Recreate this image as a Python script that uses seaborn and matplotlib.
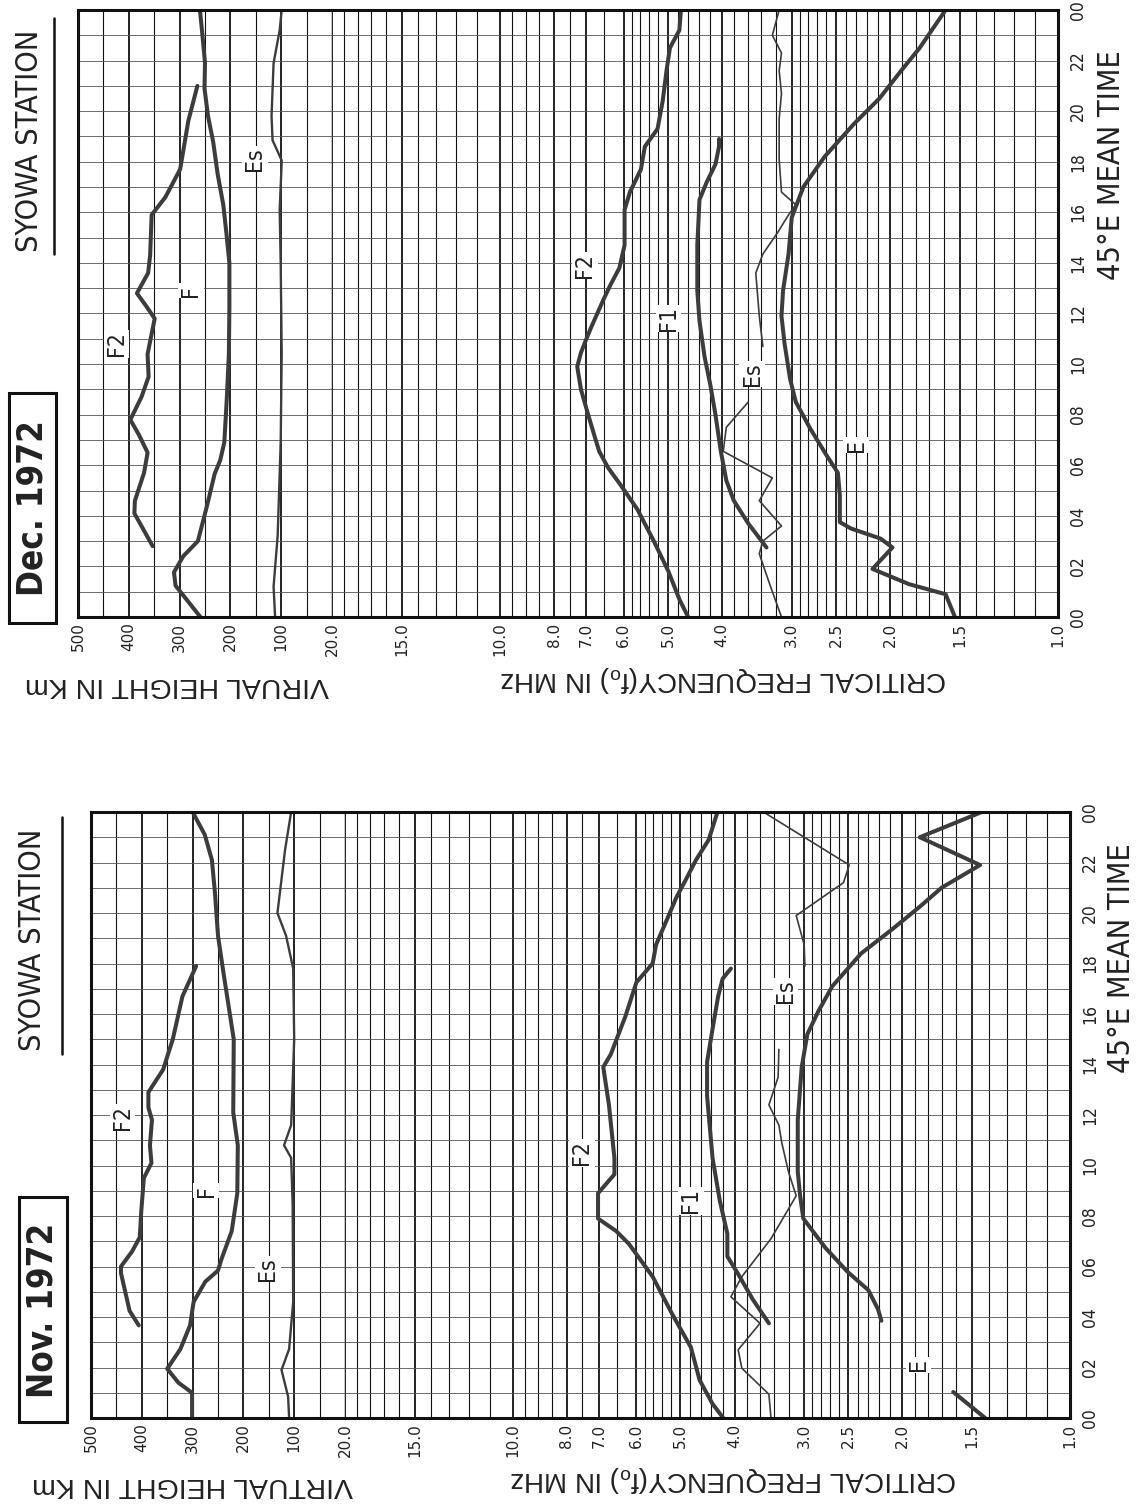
import matplotlib
matplotlib.use("Agg")
import numpy as np
import pandas as pd
import matplotlib.pyplot as plt
import matplotlib.ticker as mticker
from matplotlib.patches import Rectangle
from matplotlib.lines import Line2D
from matplotlib import font_manager
import seaborn as sns

# ---------------- axis definitions ----------------
HOURS = [0, 2, 4, 6, 8, 10, 12, 14, 16, 18, 20, 22, 24]
HOUR_LABELS = ["00", "02", "04", "06", "08", "10", "12", "14", "16", "18", "20", "22", "00"]
HEIGHT_TICKS = [500, 400, 300, 200, 100]
HEIGHT_LABELS = ["500", "400", "300", "200", "100"]
FREQ_TICKS = [20, 15, 10, 8, 7, 6, 5, 4, 3, 2.5, 2, 1.5, 1]
FREQ_LABELS = ["20.0", "15.0", "10.0", "8.0", "7.0", "6.0", "5.0", "4.0", "3.0", "2.5", "2.0", "1.5", "1.0"]

# ---------------- December 1972 ----------------
DEC_F2H_T = [2.8, 4.1, 4.6, 5.7, 6.5, 7.2, 7.8, 8.7, 9.5, 10.4, 11.1, 11.8, 12.3, 12.8, 13.6, 14.3, 15.9, 16.6, 17.7, 18.4, 19.6, 21.0]
DEC_F2H_V = [353, 389, 388, 370, 363, 380, 397, 375, 361, 363, 356, 349, 366, 384, 362, 358, 355, 328, 299, 293, 283, 265]
DEC_FH_T = [0, 1.24, 1.77, 2.4, 3.0, 4.4, 5.66, 6.2, 6.9, 8.67, 10.4, 12.2, 14.0, 15.2, 16.3, 17.5, 18.8, 19.8, 20.9, 21.9, 23.2, 24.0]
DEC_FH_V = [259, 308, 311, 293, 264, 246, 231, 220, 212, 207, 203, 202, 202, 208, 214, 225, 234, 244, 251, 250, 256, 260]
DEC_ESH_T = [0, 1.2, 3.2, 6.9, 10.4, 14.0, 16.1, 17.5, 18.05, 18.85, 19.8, 21.9, 23.2, 24]
DEC_ESH_V = [112, 115, 107, 101, 99, 101, 103, 100, 99, 117, 119, 115, 103, 99]

DEC_F2_T = [0, 0.7, 1.8, 3.0, 4.25, 5.2, 5.9, 6.55, 7.25, 8.0, 9.0, 9.9, 10.45, 11.0, 11.5, 12.5, 13.1, 13.8, 14.7, 16.1, 16.8, 17.7, 18.6, 19.3, 20.4, 21.6, 22.5, 23.2, 24]
DEC_F2_V = [4.60, 4.77, 4.99, 5.30, 5.67, 6.07, 6.40, 6.64, 6.79, 6.95, 7.16, 7.27, 7.16, 7.00, 6.85, 6.54, 6.35, 6.11, 5.98, 5.98, 5.85, 5.59, 5.50, 5.22, 5.11, 5.03, 4.96, 4.77, 4.74]
DEC_F1_T = [2.75, 3.7, 4.6, 5.4, 6.55, 8.0, 9.2, 10.3, 11.7, 12.9, 14.7, 16.5, 17.2, 17.9, 18.6, 18.9]
DEC_F1_V = [3.33, 3.59, 3.81, 3.93, 4.02, 4.11, 4.20, 4.30, 4.39, 4.43, 4.43, 4.39, 4.26, 4.11, 4.05, 4.05]
DEC_ES1_T = [0, 1.25, 2.5, 3.0, 3.6, 4.6, 5.5, 6.55, 7.5, 8.5]
DEC_ES1_V = [3.13, 3.28, 3.43, 3.38, 3.13, 3.43, 3.25, 3.98, 3.93, 3.59]
DEC_ES2_T = [10.7, 11.9, 13.6, 14.35, 15.2, 15.9, 16.3, 16.8, 18.1, 19.7, 20.7, 21.6, 22.3, 23.0, 24]
DEC_ES2_V = [3.38, 3.43, 3.48, 3.38, 3.18, 3.04, 2.95, 3.13, 3.16, 3.16, 3.13, 3.16, 3.13, 3.25, 3.16]
DEC_E_T = [0, 0.9, 1.3, 1.9, 2.75, 3.1, 3.5, 3.75, 4.8, 5.7, 6.4, 7.45, 8.5, 9.4, 10.8, 11.9, 12.9, 14.35, 15.8, 17.0, 18.2, 19.5, 20.5, 21.6, 22.5, 24]
DEC_E_V = [1.53, 1.59, 1.85, 2.15, 1.98, 2.08, 2.35, 2.46, 2.46, 2.48, 2.60, 2.78, 2.95, 3.02, 3.09, 3.13, 3.11, 3.04, 3.00, 2.86, 2.62, 2.32, 2.09, 1.91, 1.77, 1.59]

# ---------------- November 1972 ----------------
NOV_F2H_T = [3.67, 4.24, 5.74, 6.0, 6.6, 7.16, 8.2, 9.5, 10.1, 10.8, 11.8, 12.3, 12.9, 13.8, 15.0, 16.7, 17.9]
NOV_F2H_V = [406, 424, 441, 441, 419, 404, 401, 396, 381, 384, 380, 387, 387, 358, 339, 320, 293]
NOV_FH_T = [0, 1.0, 1.4, 1.95, 2.73, 3.67, 4.6, 5.4, 5.84, 6.3, 7.4, 8.9, 10.8, 12.1, 15.0, 16.3, 17.6, 19.1, 20.8, 22.1, 23.1, 24]
NOV_FH_V = [301, 301, 328, 350, 324, 305, 298, 275, 250, 243, 223, 212, 211, 220, 219, 229, 239, 250, 256, 262, 276, 300]
NOV_ESH_T = [0, 0.85, 1.9, 2.73, 4.6, 8.4, 10.3, 10.8, 11.6, 15.0, 17.8, 19.1, 20.0, 22.5, 24]
NOV_ESH_V = [110, 112, 125, 110, 102, 103, 106, 120, 106, 100, 102, 116, 133, 118, 106]

NOV_F2_T = [0, 0.56, 1.5, 2.8, 4.1, 5.6, 6.9, 7.4, 7.9, 8.9, 9.65, 10.3, 12.4, 13.9, 14.4, 15.9, 17.25, 18.0, 18.75, 19.9, 20.6, 21.4, 22.1, 22.9, 23.8, 24]
NOV_F2_V = [4.19, 4.38, 4.62, 4.79, 5.17, 5.61, 6.19, 6.52, 7.03, 7.03, 6.57, 6.57, 6.72, 6.88, 6.67, 6.28, 6.00, 5.61, 5.53, 5.25, 5.09, 4.87, 4.69, 4.45, 4.32, 4.29]
NOV_F1_T = [3.75, 4.7, 5.7, 6.4, 7.3, 8.6, 10.3, 12.75, 14.1, 15.4, 16.7, 17.4, 17.8]
NOV_F1_V = [3.47, 3.71, 3.94, 4.12, 4.12, 4.25, 4.38, 4.48, 4.48, 4.38, 4.28, 4.20, 4.06]
NOV_ES1_T = [0, 0.94, 1.97, 2.7, 3.75, 4.8, 5.6, 7.1, 8.8, 9.75, 10.9, 11.6, 12.4, 13.5, 14.6]
NOV_ES1_V = [3.44, 3.47, 3.88, 3.94, 3.60, 4.06, 3.88, 3.44, 3.10, 3.20, 3.29, 3.33, 3.47, 3.34, 3.33]
NOV_ES2_T = [17.9, 18.75, 19.9, 21.2, 21.9, 24]
NOV_ES2_V = [2.99, 3.00, 3.10, 2.55, 2.49, 3.55]
NOV_E1_T = [0, 1.03]
NOV_E1_V = [1.42, 1.62]
NOV_E2_T = [3.85, 4.3, 5.06, 5.8, 6.75, 7.9, 8.8, 9.75, 11.8, 13.9, 15.2, 16.1, 17.1, 18.4, 19.3, 20.25, 21.0, 21.9, 23.0, 24]
NOV_E2_V = [2.18, 2.21, 2.30, 2.51, 2.75, 3.01, 3.05, 3.08, 3.08, 3.03, 2.96, 2.83, 2.67, 2.37, 2.10, 1.86, 1.70, 1.45, 1.86, 1.44]

# curve labels: (text, value, time)
DEC_LABELS_H = [("F2", 424, 10.8), ("F", 278, 12.9), ("Es", 152, 18.1)]
DEC_LABELS_F = [("F2", 7.05, 13.9), ("F1", 4.99, 11.8), ("Es", 3.53, 9.6), ("E", 2.30, 6.8)]
NOV_LABELS_H = [("F2", 438, 11.9), ("F", 273, 9.0), ("Es", 152, 5.9)]
NOV_LABELS_F = [("F2", 7.52, 10.5), ("F1", 4.79, 8.6), ("Es", 3.24, 16.9), ("E", 1.87, 2.1)]

# ---------------- style ----------------
sns.set_theme(style="white")
_fonts = font_manager.fontManager.ttflist
_names = {f.name for f in _fonts}
if "Liberation Sans Narrow" in _names:
    NARROW = dict(family=["Liberation Sans Narrow", "DejaVu Sans"])
    NARROW_OK = True
elif any(f.name == "DejaVu Sans" and str(f.stretch) in ("condensed", "semi-condensed") for f in _fonts):
    NARROW = dict(family=["DejaVu Sans"], stretch="condensed")
    NARROW_OK = True
else:
    NARROW = dict(family=["DejaVu Sans"])
    NARROW_OK = False
SANS = "Liberation Sans" if "Liberation Sans" in _names else "DejaVu Sans"
plt.rcParams["font.family"] = [SANS, "DejaVu Sans"]

W, H = 1141, 1504
fig = plt.figure(figsize=(W / 100, H / 100), dpi=100)
fig.patch.set_facecolor("white")

INK = "#111111"
TXT = "#222222"
CURVE = "#3c3c3c"
THICK, MED, THIN = 2.9, 1.7, 1.2

HEIGHT_GRID = list(range(0, 501, 50))
FREQ_GRID = (list(np.round(np.arange(1.0, 3.0, 0.1), 2)) + list(np.round(np.arange(3.0, 6.0, 0.2), 2))
             + list(np.round(np.arange(6.0, 10.0, 0.5), 2)) + list(range(10, 21)))

S_STATION = 22 if NARROW_OK else 19
S_MONTH = 25 if NARROW_OK else 21
S_TIME = 22 if NARROW_OK else 20


def fx(px):
    return px / W


def fy(py):
    return 1 - py / H


def draw(ax, t, v, lw):
    df = pd.DataFrame({"time": t, "value": v})
    sns.lineplot(data=df, x="value", y="time", ax=ax, sort=False, estimator=None,
                 color=CURVE, linewidth=lw, legend=False, orient="y", zorder=3)


def panel(left, split, right, top, bottom, curves_h, curves_f, labels_h, labels_f):
    hgt = (bottom - top) / H
    axh = fig.add_axes([fx(left), fy(bottom), fx(split - left), hgt])
    axf = fig.add_axes([fx(split), fy(bottom), fx(right - split), hgt])
    axf.set_xscale("log")
    for t, v, lw in curves_h:
        draw(axh, t, v, lw)
    for t, v, lw in curves_f:
        draw(axf, t, v, lw)
    axh.set_xlim(500, 0)
    axf.set_xlim(20, 1)
    for ax in (axh, axf):
        ax.set_facecolor("white")
        ax.set_ylim(0, 24)
        ax.set_xlabel("")
        ax.set_ylabel("")
        ax.set_axisbelow(True)
        ax.yaxis.set_major_locator(mticker.FixedLocator(HOURS))
        ax.yaxis.set_minor_locator(mticker.FixedLocator(list(range(25))))
        ax.grid(axis="y", which="both", color="#555555", lw=0.6)
    axh.xaxis.set_major_locator(mticker.FixedLocator(HEIGHT_TICKS))
    axh.xaxis.set_major_formatter(mticker.FixedFormatter(HEIGHT_LABELS))
    axh.xaxis.set_minor_locator(mticker.FixedLocator(HEIGHT_GRID))
    axh.grid(axis="x", which="major", color=INK, lw=1.3)
    axh.grid(axis="x", which="minor", color=INK, lw=0.8)
    axf.xaxis.set_major_locator(mticker.FixedLocator(FREQ_TICKS))
    axf.xaxis.set_major_formatter(mticker.FixedFormatter(FREQ_LABELS))
    axf.xaxis.set_minor_locator(mticker.FixedLocator(FREQ_GRID))
    axf.xaxis.set_minor_formatter(mticker.NullFormatter())
    axf.grid(axis="x", which="major", color=INK, lw=1.3)
    axf.grid(axis="x", which="minor", color=INK, lw=0.8)
    for ax in (axh, axf):
        ax.tick_params(axis="x", which="both", length=0, pad=4, labelsize=11,
                       labelrotation=90, colors=TXT)
        for lab in ax.get_xticklabels():
            lab.set_family(["DejaVu Sans"])
    axh.tick_params(axis="y", which="both", length=0, labelleft=False, labelright=False)
    axf.tick_params(axis="y", which="both", length=0, labelleft=False, labelright=True,
                    pad=8, labelsize=12.5, colors=TXT)
    axf.yaxis.set_major_formatter(mticker.FixedFormatter(HOUR_LABELS))
    for lab in axf.get_yticklabels():
        lab.set_rotation(90)
        lab.set_family(NARROW["family"])
        if "stretch" in NARROW:
            lab.set_stretch(NARROW["stretch"])
        lab.set_va("center")
    for name, sp in axh.spines.items():
        sp.set_color(INK)
        sp.set_linewidth(1.0 if name == "right" else 2.2)
        sp.set_zorder(4)
    for name, sp in axf.spines.items():
        sp.set_color(INK)
        sp.set_linewidth(2.2)
        sp.set_zorder(4)
    axf.spines["left"].set_visible(False)
    for ax, labels in ((axh, labels_h), (axf, labels_f)):
        for s, v, t in labels:
            ax.text(v, t, s, rotation=90, ha="center", va="center", fontsize=16.5,
                    color=TXT, zorder=5, bbox=dict(fc="white", ec="none", pad=1.0), **NARROW)
    return axh, axf


panel(78, 332, 1058, 10, 617,
      [(DEC_F2H_T, DEC_F2H_V, THICK), (DEC_FH_T, DEC_FH_V, THICK), (DEC_ESH_T, DEC_ESH_V, MED)],
      [(DEC_F2_T, DEC_F2_V, THICK), (DEC_F1_T, DEC_F1_V, THICK), (DEC_E_T, DEC_E_V, THICK),
       (DEC_ES1_T, DEC_ES1_V, THIN), (DEC_ES2_T, DEC_ES2_V, THIN)],
      DEC_LABELS_H, DEC_LABELS_F)

panel(91, 345, 1070, 812, 1418,
      [(NOV_F2H_T, NOV_F2H_V, THICK), (NOV_FH_T, NOV_FH_V, THICK), (NOV_ESH_T, NOV_ESH_V, MED)],
      [(NOV_F2_T, NOV_F2_V, THICK), (NOV_F1_T, NOV_F1_V, THICK), (NOV_E1_T, NOV_E1_V, THICK),
       (NOV_E2_T, NOV_E2_V, THICK), (NOV_ES1_T, NOV_ES1_V, THIN), (NOV_ES2_T, NOV_ES2_V, THIN)],
      NOV_LABELS_H, NOV_LABELS_F)


def header(station_xy, line_x, line_y0, line_y1, box, month_xy, month):
    fig.text(fx(station_xy[0]), fy(station_xy[1]), "SYOWA STATION", rotation=90,
             ha="center", va="center", fontsize=S_STATION, color=TXT, **NARROW)
    fig.add_artist(Line2D([fx(line_x), fx(line_x)], [fy(line_y0), fy(line_y1)],
                          transform=fig.transFigure, color=INK, lw=1.8))
    x0, y0, x1, y1 = box
    fig.add_artist(Rectangle((fx(x0), fy(y1)), fx(x1 - x0), (y1 - y0) / H,
                             transform=fig.transFigure, fill=False, ec=INK, lw=2.2))
    fig.text(fx(month_xy[0]), fy(month_xy[1]), month, rotation=90, ha="center", va="center",
             fontsize=S_MONTH, fontweight="bold", color=TXT, **NARROW)


header((30, 141), 54, 18, 254, (9, 393, 56, 623), (33, 508), "Dec. 1972")
header((33, 940), 62, 817, 1054, (19, 1197, 67, 1422), (43, 1310), "Nov. 1972")

fig.text(fx(177), fy(685), "VIRUAL HEIGHT IN Km", rotation=180, ha="center", va="center",
         fontsize=20.5, color=TXT)
fig.text(fx(723), fy(679), "CRITICAL FREQUENCY(f$_\\mathregular{o}$) IN MHz", rotation=180,
         ha="center", va="center", fontsize=20, color=TXT)
fig.text(fx(1112), fy(165), "45°E MEAN TIME", rotation=90, ha="center", va="center",
         fontsize=S_TIME, color=TXT, **NARROW)

fig.text(fx(193), fy(1485), "VIRTUAL HEIGHT IN Km", rotation=180, ha="center", va="center",
         fontsize=20.5, color=TXT)
fig.text(fx(733), fy(1479), "CRITICAL FREQUENCY(f$_\\mathregular{o}$) IN MHz", rotation=180,
         ha="center", va="center", fontsize=20, color=TXT)
fig.text(fx(1121), fy(958), "45°E MEAN TIME", rotation=90, ha="center", va="center",
         fontsize=S_TIME, color=TXT, **NARROW)

fig.savefig("out.png", dpi=100, facecolor="white")
